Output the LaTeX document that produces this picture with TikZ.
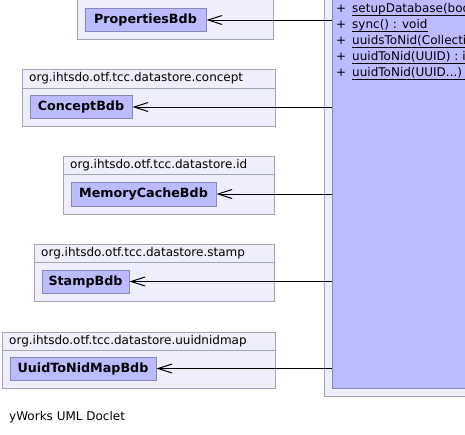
\documentclass[tikz,border=0pt]{standalone}
\usepackage{fontspec}
\setmainfont{DejaVu Sans}
\usetikzlibrary{arrows.meta}
\definecolor{pkgfill}{RGB}{238,238,252}
\definecolor{pkgline}{RGB}{164,164,184}
\definecolor{clsfill}{RGB}{187,187,255}
\definecolor{clsline}{RGB}{136,136,180}
\tikzset{
  pkgbox/.style={draw=pkgline, fill=pkgfill, line width=1pt},
  clsbox/.style={draw=clsline, fill=clsfill, line width=1pt, inner sep=0pt,
    font=\fontsize{12.7}{14}\selectfont\bfseries, text=black},
  pkglabel/.style={anchor=west, inner sep=0pt, font=\fontsize{12}{14}\selectfont},
  mtext/.style={anchor=base west, inner sep=0pt, font=\fontsize{12}{14}\selectfont},
  doclet/.style={anchor=west, inner sep=0pt, font=\fontsize{12}{14}\selectfont},
  conn/.style={draw=black, line width=1pt, -{Straight Barb[length=14pt,width=9pt,line width=1pt]}},
}
\begin{document}
\begin{tikzpicture}[x=1pt,y=-1pt]
\useasboundingbox (0,0) rectangle (465,434);
\begin{scope}
\clip (0,0) rectangle (465,434);
% packages
\draw[pkgbox] (77,-20) rectangle (273,39);
\draw[pkgbox] (22,69) rectangle (275,126);
\draw[pkgline, line width=1pt] (22,88) -- (275,88);
\node[pkglabel] (l1) at (29,78.5) {org.ihtsdo.otf.tcc.datastore.concept};
\draw[pkgbox] (63,156) rectangle (274,214);
\draw[pkgline, line width=1pt] (63,174) -- (274,174);
\node[pkglabel] (l2) at (70,165) {org.ihtsdo.otf.tcc.datastore.id};
\draw[pkgbox] (34,244) rectangle (274,301);
\draw[pkgline, line width=1pt] (34,262) -- (274,262);
\node[pkglabel] (l3) at (41,253) {org.ihtsdo.otf.tcc.datastore.stamp};
\draw[pkgbox] (2,332) rectangle (275,388);
\draw[pkgline, line width=1pt] (2,350) -- (275,350);
\node[pkglabel] (l4) at (9,341) {org.ihtsdo.otf.tcc.datastore.uuidnidmap};
% classes
\node[clsbox, minimum width=121pt, minimum height=23pt] (c0) at (145.5,20) {PropertiesBdb};
\node[clsbox, minimum width=102pt, minimum height=23pt] (c1) at (81,107) {ConceptBdb};
\node[clsbox, minimum width=145pt, minimum height=24pt] (c2) at (143.5,194) {MemoryCacheBdb};
\node[clsbox, minimum width=87pt, minimum height=23pt] (c3) at (85.5,281.5) {StampBdb};
\node[clsbox, minimum width=146pt, minimum height=23pt] (c4) at (83,368.5) {UuidToNidMapBdb};
% big class
\draw[pkgbox] (324,-20) rectangle (480,396);
\node[draw=clsline, fill=clsfill, line width=1pt, minimum width=148pt, minimum height=408pt, inner sep=0pt] (big) at (406,184) {};
\coordinate (R) at (466,0);
\foreach \i/\t/\y in {1/{setupDatabase(boo}/12, 2/{sync() : void}/28, 3/{uuidsToNid(Collecti}/44, 4/{uuidToNid(UUID) : i}/60, 5/{uuidToNid(UUID...) :}/76} {
  \node[mtext] (p\i) at (336,\y) {+};
  \node[mtext] (m\i) at (352,\y) {\t};
}
\foreach \i in {1,3,4,5} {
  \draw[line width=1pt] ([yshift=-3pt]m\i.base west) -- ([yshift=-3pt]m\i.base west -| R);
}
\draw[line width=1pt] ([yshift=-3pt]m2.base west) -- ([yshift=-3pt]m2.base east);
% connectors
\foreach \c in {c0,c1,c2,c3,c4} {
  \draw[conn] (\c.east -| big.west) -- (\c.east);
}
\node[doclet] (yw) at (9,417) {yWorks UML Doclet};
\end{scope}
\end{tikzpicture}
\end{document}
